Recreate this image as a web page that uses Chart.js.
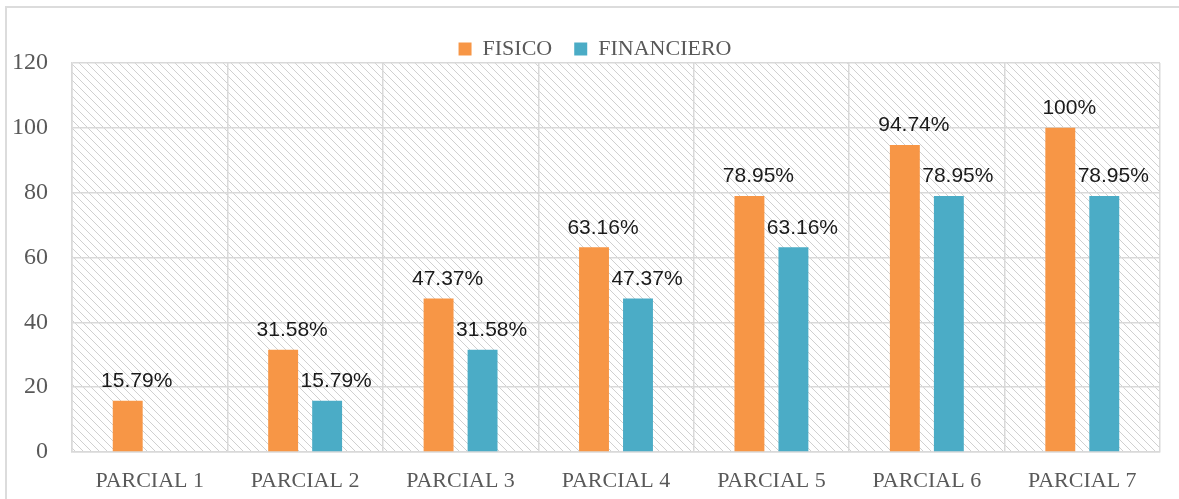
<!DOCTYPE html>
<html><head><meta charset="utf-8">
<script src="https://cdn.jsdelivr.net/npm/chart.js@4"></script>
<style>
html,body{margin:0;padding:0;background:#fff;}
#wrap{position:relative;width:1179px;height:499px;overflow:hidden;}
#frame{position:absolute;left:5px;top:6px;width:1300px;height:600px;border-top:2px solid #dcdcdc;border-left:2px solid #dcdcdc;}
canvas{position:absolute;left:0;top:0;}
</style></head><body>
<div id="wrap"><div id="frame"></div><canvas id="c" width="1179" height="499"></canvas></div>
<script>
const categories = ['PARCIAL 1','PARCIAL 2','PARCIAL 3','PARCIAL 4','PARCIAL 5','PARCIAL 6','PARCIAL 7'];
const fisico = [15.79, 31.58, 47.37, 63.16, 78.95, 94.74, 100];
const financiero = [null, 15.79, 31.58, 47.37, 63.16, 78.95, 78.95];
const yMin = 0, yMax = 120, yStep = 20;

Chart.defaults.font.family = "'Liberation Serif', serif";

const hatch = {
  id: 'hatch',
  beforeDraw(chart) {
    const {ctx, chartArea: a} = chart;
    const t = document.createElement('canvas');
    t.width = 8; t.height = 8;
    const pc = t.getContext('2d');
    pc.strokeStyle = '#d0d0d0';
    pc.lineWidth = 1;
    pc.beginPath();
    pc.moveTo(-2, -2); pc.lineTo(10, 10);
    pc.moveTo(-2, 6); pc.lineTo(2, 10);
    pc.moveTo(6, -2); pc.lineTo(10, 2);
    pc.stroke();
    ctx.save();
    ctx.fillStyle = ctx.createPattern(t, 'repeat');
    ctx.fillRect(a.left, a.top, a.right - a.left, a.bottom - a.top);
    ctx.restore();
  }
};

const legendShift = {
  id: 'legendShift',
  afterLayout(chart) {
    const lg = chart.legend;
    if (!lg) return;
    lg.top += 7; lg.bottom += 7;
    lg.left += 15; lg.right += 15;
  }
};

const valueLabels = {
  id: 'valueLabels',
  afterDatasetsDraw(chart) {
    const ctx = chart.ctx;
    ctx.save();
    ctx.font = "21px 'Liberation Sans', Arial, sans-serif";
    ctx.fillStyle = '#1a1a1a';
    ctx.textAlign = 'center';
    ctx.textBaseline = 'bottom';
    chart.data.datasets.forEach((ds, i) => {
      const meta = chart.getDatasetMeta(i);
      meta.data.forEach((el, j) => {
        const v = ds.data[j];
        if (v === null || v === undefined) return;
        ctx.fillText(v + '%', el.x + 9, el.y - 9);
      });
    });
    ctx.restore();
  }
};

new Chart(document.getElementById('c'), {
  type: 'bar',
  data: {
    labels: categories,
    datasets: [
      {label: 'FISICO', data: fisico, backgroundColor: '#F79646', categoryPercentage: 0.566, barPercentage: 0.68},
      {label: 'FINANCIERO', data: financiero, backgroundColor: '#4BACC6', categoryPercentage: 0.566, barPercentage: 0.68}
    ]
  },
  options: {
    responsive: false,
    animation: false,
    devicePixelRatio: 1,
    layout: {padding: {left: 0, right: 19, top: 9, bottom: 0}},
    plugins: {
      legend: {
        position: 'top',
        labels: {boxWidth: 13, boxHeight: 13, padding: 22, color: '#595959', font: {size: 22}}
      },
      tooltip: {enabled: false}
    },
    scales: {
      x: {
        grid: {color: '#d9d9d9', lineWidth: 1.5, drawTicks: false},
        border: {color: '#d9d9d9', width: 1.5},
        ticks: {color: '#595959', font: {size: 22}, padding: 16, maxRotation: 0},
        afterFit(s) { s.height = 47; }
      },
      y: {
        min: yMin, max: yMax,
        grid: {color: '#d9d9d9', lineWidth: 1.5, drawTicks: false},
        border: {color: '#d9d9d9', width: 1.5},
        ticks: {stepSize: yStep, color: '#595959', font: {size: 24}, padding: 24},
        afterFit(s) { s.width = 72; }
      }
    }
  },
  plugins: [hatch, legendShift, valueLabels]
});
</script>
</body></html>
